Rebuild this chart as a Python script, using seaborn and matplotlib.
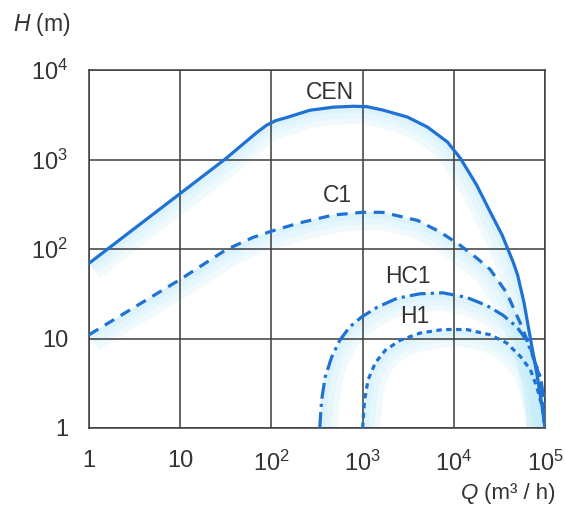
import numpy as np
import pandas as pd
import matplotlib
matplotlib.use("Agg")
import matplotlib.pyplot as plt
from matplotlib.ticker import NullLocator
import seaborn as sns

# Head H (m) versus flow Q (m3/h) for four pump families
cen_q = [1, 3.16, 10, 31.6, 70.8, 89.1, 112, 148, 263, 479, 794, 1122, 1660, 3090,
         5130, 8510, 11750, 17800, 25100, 33900, 44700, 50100, 58900, 69200, 81300,
         93300, 100000]
cen_h = [69.2, 170, 417, 1023, 2042, 2427, 2723, 2951, 3548, 3846, 3936, 3890, 3573,
         2985, 2307, 1570, 1040, 519, 259, 143, 71.6, 51.2, 25.1, 10, 4.07, 1.70, 1]

c1_q = [1, 10, 31.6, 63.1, 100, 200, 479, 1000, 1660, 3980, 7080, 11750, 17800,
        25100, 38000, 53700, 72400, 89100, 100000]
c1_h = [11.0, 45.7, 97.7, 135, 158, 195, 240, 257, 257, 209, 155, 110, 79.4, 58.9,
        32.4, 14.8, 6.92, 3.47, 1]

hc1_q = [339, 355, 389, 457, 562, 724, 977, 1450, 2400, 4270, 7590, 13800, 22900,
         34700, 49000, 63100, 74100, 89100, 97700, 100000]
hc1_h = [1, 2.04, 3.72, 6.17, 9.55, 13.5, 17.4, 22.4, 28.2, 31.6, 32.4, 28.8, 23.4,
         18.2, 13.5, 9.55, 6.17, 3.72, 2.04, 1]

h1_q = [1000, 1050, 1150, 1380, 1780, 2570, 4270, 7590, 13800, 25100, 38000, 53700,
        69200, 81300, 93300, 100000]
h1_h = [1, 2.04, 3.47, 5.37, 7.41, 9.55, 11.5, 12.6, 12.6, 11.0, 8.91, 6.31, 4.47,
        2.88, 1.70, 1]

series_names = ["CEN", "C1", "HC1", "H1"]
label_q = [440, 525, 3160, 3740]
label_h = [5600, 400, 49, 17.4]

x_ticks = [1, 10, 100, 1000, 10000, 100000]
x_tick_labels = ["1", "10", r"10$^2$", r"10$^3$", r"10$^4$", r"10$^5$"]
y_ticks = [1, 10, 100, 1000, 10000]
y_tick_labels = ["1", "10", r"10$^2$", r"10$^3$", r"10$^4$"]

sns.set_theme(style="white")
plt.rcParams["font.family"] = ["Liberation Sans", "DejaVu Sans"]
plt.rcParams["mathtext.fontset"] = "custom"
plt.rcParams["mathtext.rm"] = "Liberation Sans"
plt.rcParams["mathtext.it"] = "Liberation Sans:italic"
plt.rcParams["mathtext.bf"] = "Liberation Sans:bold"

line_color = "#1f72d3"
band_color = "#c6edfa"
grid_color = "#3c3c3c"
text_color = "#333333"

fig = plt.figure(figsize=(5.65, 5.05), dpi=100)
ax = fig.add_axes([89 / 565, 1 - 428 / 505, (545 - 89) / 565, (428 - 70) / 505])
ax.set_xscale("log")
ax.set_yscale("log")
ax.set_xlim(1, 1e5)
ax.set_ylim(1, 1e4)

curves = [
    (cen_q, cen_h, "-"),
    (c1_q, c1_h, (0, (3.4, 2.4))),
    (hc1_q, hc1_h, (0, (5.0, 1.6, 1.0, 1.6))),
    (h1_q, h1_h, (0, (1.7, 1.4))),
]


def soft_band(q, h):
    """Light shaded band hugging the inner side of a curve."""
    pts = ax.transData.transform(np.column_stack([q, h]))
    tang = np.gradient(pts, axis=0)
    tang /= np.linalg.norm(tang, axis=1, keepdims=True)
    normal = np.column_stack([tang[:, 1], -tang[:, 0]])
    for d in (6, 12, 18):
        inner = pts + normal * d
        poly = np.vstack([pts, inner[::-1]])
        data = ax.transData.inverted().transform(poly)
        ax.fill(data[:, 0], data[:, 1], color=band_color, alpha=0.26, lw=0, zorder=0.2)


for (q, h, ls), name in zip(curves, series_names):
    soft_band(q, h)
    df = pd.DataFrame({"Q": q, "H": h})
    sns.lineplot(data=df, x="Q", y="H", ax=ax, color=line_color, lw=2.3,
                 linestyle=ls, estimator=None, sort=False, zorder=3)

for name, lq, lh in zip(series_names, label_q, label_h):
    ax.text(lq, lh, name, ha="center", va="center", fontsize=16.5,
            color=text_color, zorder=4)

ax.set_xlabel("")
ax.set_ylabel("")
ax.set_xticks(x_ticks)
ax.set_xticklabels(x_tick_labels)
ax.set_yticks(y_ticks)
ax.set_yticklabels(y_tick_labels)
ax.xaxis.set_minor_locator(NullLocator())
ax.yaxis.set_minor_locator(NullLocator())
ax.tick_params(axis="both", direction="out", length=10, width=1.1, color=grid_color,
               labelsize=17, labelcolor=text_color)
ax.tick_params(axis="y", pad=5)
ax.tick_params(axis="x", pad=6)
for t in ax.xaxis.get_major_ticks()[1:-1]:
    t.tick1line.set_visible(False)

ax.set_axisbelow(True)
ax.grid(True, which="major", color=grid_color, lw=1.1)
for sp in ax.spines.values():
    sp.set_visible(True)
    sp.set_color(grid_color)
    sp.set_linewidth(1.1)

fig.text(13 / 565, 1 - 25 / 505, r"$H$ (m)", ha="left", va="center",
         fontsize=16.5, color=text_color)
# x-axis title: italic symbol followed by the unit
unit = fig.text(555 / 565, 1 - 493 / 505, "(m³ / h)", ha="right", va="center",
                fontsize=16, color=text_color)
ax.annotate("Q", xy=(0, 0.5), xycoords=unit, xytext=(-4, 0),
            textcoords="offset points", ha="right", va="center",
            fontsize=16, fontstyle="italic", color=text_color,
            annotation_clip=False)

fig.savefig("out.png", dpi=100)
